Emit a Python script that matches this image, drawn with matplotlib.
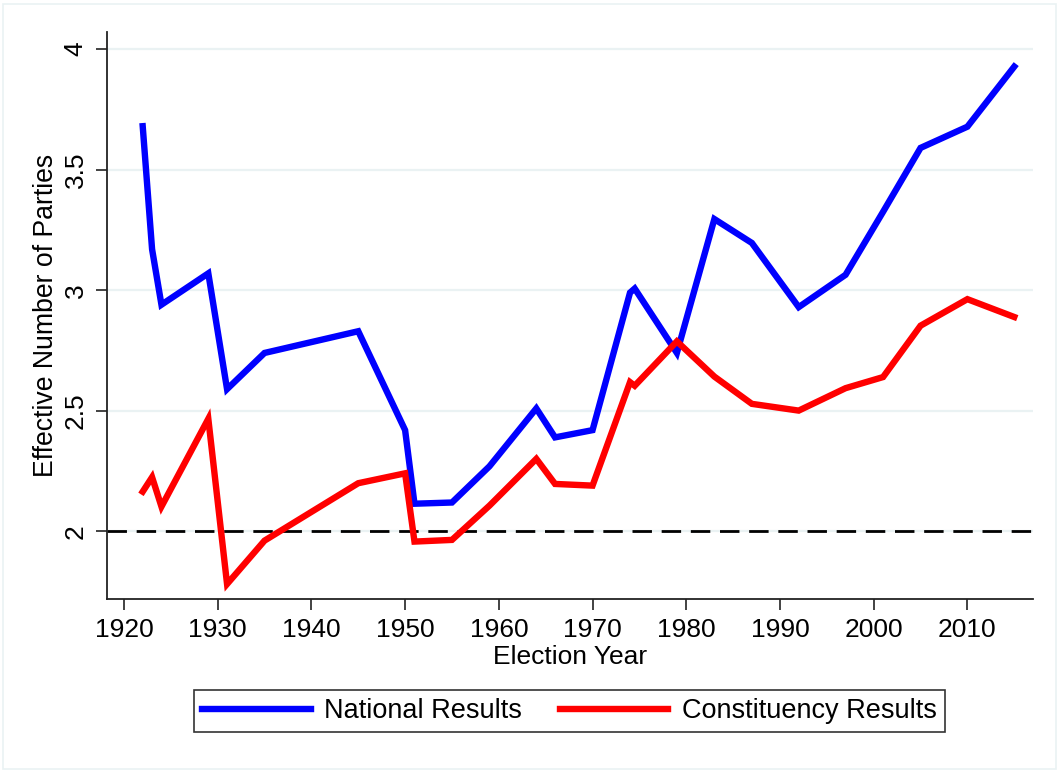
import matplotlib
matplotlib.use("Agg")
import matplotlib.pyplot as plt
from matplotlib.patches import Rectangle

plt.rcParams['font.family'] = ['Liberation Sans', 'DejaVu Sans']

years = [1922, 1923, 1924, 1929, 1931, 1935, 1945, 1950, 1951, 1955, 1959,
         1964, 1966, 1970, 1974.0, 1974.5, 1979, 1983, 1987, 1992, 1997,
         2001, 2005, 2010, 2015]
national = [3.68, 3.17, 2.94, 3.07, 2.59, 2.74, 2.83, 2.42, 2.115, 2.12, 2.27,
            2.51, 2.39, 2.42, 2.99, 3.007, 2.74, 3.295, 3.196, 2.93, 3.064,
            3.325, 3.59, 3.678, 3.927]
constituency = [2.165, 2.225, 2.103, 2.467, 1.782, 1.962, 2.20, 2.241, 1.958,
                1.965, 2.107, 2.301, 2.197, 2.19, 2.619, 2.604, 2.788, 2.642,
                2.529, 2.501, 2.594, 2.64, 2.853, 2.963, 2.889]
xticks = [1920, 1930, 1940, 1950, 1960, 1970, 1980, 1990, 2000, 2010]
yticks = [2, 2.5, 3, 3.5, 4]
ytick_labels = ['2', '2.5', '3', '3.5', '4']

W, H = 1059, 772
fig = plt.figure(figsize=(W / 100, H / 100), dpi=100)
fig.patch.set_facecolor('white')
fig.patches.append(Rectangle((3 / W, 3 / H), (W - 6) / W, (H - 7) / H,
                             transform=fig.transFigure, fill=False,
                             edgecolor='#EAF2F3', linewidth=1.2))

ax = fig.add_axes([107 / W, 1 - 599 / H, (1033 - 107) / W, (599 - 32) / H])
ax.set_xlim(1918.19, 2017.0)
ax.set_ylim(1.72, 4.0705)

for y in yticks:
    ax.axhline(y, color='#EAF2F3', linewidth=1.6, zorder=0)
ax.axhline(2, color='black', linewidth=2.0, dashes=(7, 3.5), zorder=1)

ax.plot(years, national, color='#0000FF', linewidth=4.6,
        solid_joinstyle='miter', label='National Results', zorder=3)
ax.plot(years, constituency, color='#FF0000', linewidth=4.6,
        solid_joinstyle='miter', label='Constituency Results', zorder=3)

for s in ['top', 'right']:
    ax.spines[s].set_visible(False)
for s in ['left', 'bottom']:
    ax.spines[s].set_linewidth(1.3)
    ax.spines[s].set_color('#222222')

ax.set_xticks(xticks)
ax.set_xticklabels([str(x) for x in xticks], fontsize=19)
ax.set_yticks(yticks)
ax.set_yticklabels(ytick_labels, fontsize=19, rotation=90, va='center')
ax.tick_params(direction='out', length=8, width=1.2, color='#222222', pad=6)
ax.set_xlabel('Election Year', fontsize=19, labelpad=2)
ax.set_ylabel('Effective Number of Parties', fontsize=19.2, labelpad=3)

leg = fig.legend(loc='center', bbox_to_anchor=((195 + 944) / 2 / W, 1 - 711 / H),
                 ncol=2, fontsize=19.5, frameon=True, fancybox=False,
                 edgecolor='black', handlelength=4.0, handletextpad=0.5,
                 columnspacing=1.4, borderpad=0.3)
leg.get_frame().set_linewidth(1.2)

fig.savefig('out.png', dpi=100, facecolor='white')
